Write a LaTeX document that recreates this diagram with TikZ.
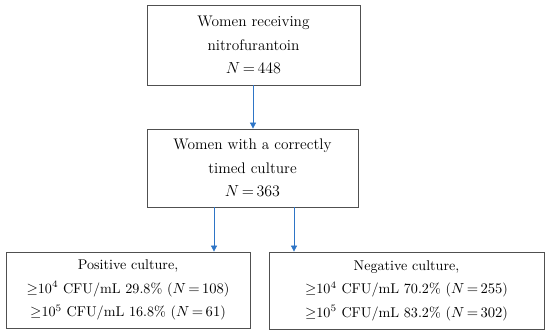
\documentclass[tikz,border=0pt]{standalone}
\usepackage{amsmath,amssymb}
\usepackage{xcolor}
\usepackage{tikz}
\usetikzlibrary{arrows.meta, shapes, positioning}
\definecolor{arrowblue}{RGB}{46,117,198}
\definecolor{boxline}{RGB}{80,80,80}
\newcommand{\Neq}[1]{$N\,{=}\,#1$}

\begin{document}
\begin{tikzpicture}[
  x=0.75pt, y=0.75pt,
  box/.style={rectangle, draw=boxline, line width=0.6pt, align=center,
              inner sep=0pt, font=\fontsize{11.5}{17.6}\selectfont},
  smallbox/.style={box, font=\fontsize{10.6}{17.6}\selectfont},
  arrow/.style={-{Triangle[width=4.5pt,length=4.5pt]}, draw=arrowblue,
                fill=arrowblue, line width=0.6pt}
]
\useasboundingbox (0,0) rectangle (550,-334);
\node[box, minimum width=159.75pt, minimum height=60pt]    (recv)  at (253.5,-45)  {Women receiving\\nitrofurantoin\\\Neq{448}};
\node[box, minimum width=158.25pt, minimum height=58.5pt]  (timed) at (252.5,-168) {Women with a correctly\\timed culture\\\Neq{363}};
\node[smallbox, minimum width=183pt, minimum height=57pt]       (pos) at (128,-290)     {Positive culture,\\$\geq$10\textsuperscript{4} CFU/mL 29.8\% (\Neq{108})\\$\geq$10\textsuperscript{5} CFU/mL 16.8\% (\Neq{61})};
\node[smallbox, minimum width=206.25pt, minimum height=57.75pt] (neg) at (406.5,-290.5) {Negative culture,\\$\geq$10\textsuperscript{4} CFU/mL 70.2\% (\Neq{255})\\$\geq$10\textsuperscript{5} CFU/mL 83.2\% (\Neq{302})};
\draw[arrow] (recv.south -| 253,0) -- (timed.north -| 253,0);
\draw[arrow] (timed.south -| 214,0) -- (pos.north -| 214,0);
\draw[arrow] (timed.south -| 294,0) -- (neg.north -| 294,0);
\end{tikzpicture}
\end{document}
